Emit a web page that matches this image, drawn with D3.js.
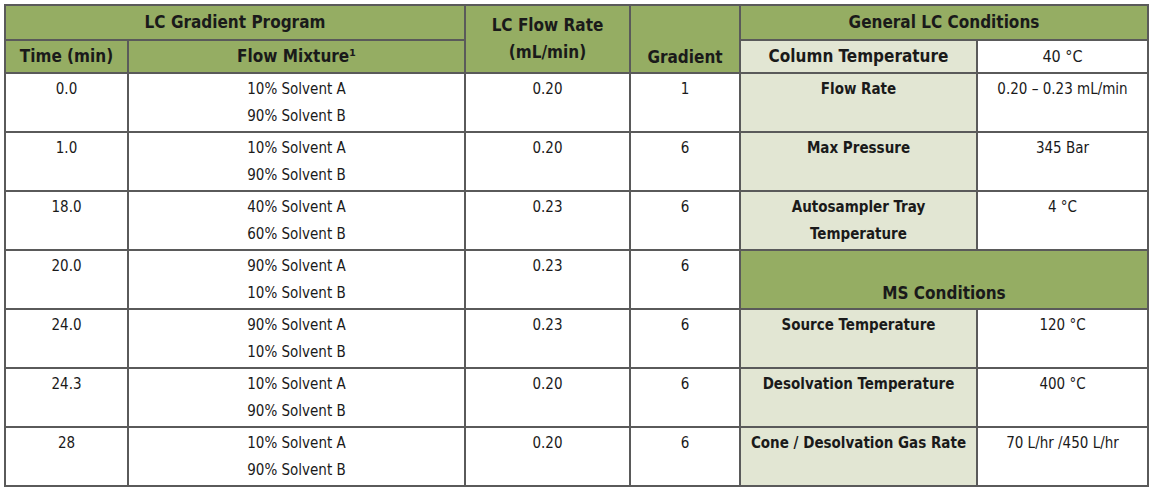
<!DOCTYPE html>
<html><head><meta charset="utf-8">
<script src="https://cdn.jsdelivr.net/npm/d3@7"></script>
<style>
body{margin:0;background:#fff;}
text{font-family:"Liberation Sans Narrow","DejaVu Sans Condensed","Roboto",sans-serif;fill:#1a1a1a;}
</style></head>
<body><div id="chart"></div>
<script>
// data
var times = ['0.0','1.0','18.0','20.0','24.0','24.3','28'];
var solventA = [10,10,40,90,90,10,10];
var solventB = [90,90,60,10,10,90,90];
var flowRates = ['0.20','0.20','0.23','0.23','0.23','0.20','0.20'];
var gradients = ['1','6','6','6','6','6','6'];
var lcLabels = ['Flow Rate','Max Pressure','Autosampler Tray\nTemperature'];
var lcValues = ['0.20 – 0.23 mL/min','345 Bar','4 °C'];
var msLabels = ['Source Temperature','Desolvation Temperature','Cone / Desolvation Gas Rate'];
var msValues = ['120 °C','400 °C','70 L/hr /450 L/hr'];

var width = 1154, height = 491;
var green = '#95ad63', pale = '#e2e6d3', line = '#5a5a5a';

var svg = d3.select('#chart').append('svg')
	.attr('width', width).attr('height', height);

// column edges (layout)
var colX = [5, 128, 465, 630, 740, 977, 1148];
var headTop = 5, head2 = 40;
var y = d3.scaleLinear().domain([0, times.length]).range([73, 486]);

var cells = [];
function cell(c0, c1, y0, y1, fill, lines, bold, size, dy) {
	cells.push({x0: colX[c0], x1: colX[c1], y0: y0, y1: y1, fill: fill,
		lines: lines, bold: bold, size: size, dy: dy});
}

// headers
cell(0, 2, headTop, head2, green, ['LC Gradient Program'], true, 17, 'mid');
cell(0, 1, head2, y(0), green, ['Time (min)'], true, 17, 'mid');
cell(1, 2, head2, y(0), green, ['Flow Mixture¹'], true, 17, 'mid');
cell(2, 3, headTop, y(0), green, ['LC Flow Rate', '(mL/min)'], true, 17, 'mid');
cell(3, 4, headTop, y(0), green, ['Gradient'], true, 17, 'low');
cell(4, 6, headTop, head2, green, ['General LC Conditions'], true, 17, 'mid');
cell(4, 5, head2, y(0), pale, ['Column Temperature'], true, 17, 'mid');
cell(5, 6, head2, y(0), '#fff', ['40 °C'], false, 16, 'mid');

// gradient program rows
times.forEach(function(t, i) {
	cell(0, 1, y(i), y(i + 1), '#fff', [t], false, 15, 'top');
	cell(1, 2, y(i), y(i + 1), '#fff',
		[solventA[i] + '% Solvent A', solventB[i] + '% Solvent B'], false, 15, 'top');
	cell(2, 3, y(i), y(i + 1), '#fff', [flowRates[i]], false, 15, 'top');
	cell(3, 4, y(i), y(i + 1), '#fff', [gradients[i]], false, 15, 'top');
});

// general LC conditions
lcLabels.forEach(function(l, i) {
	cell(4, 5, y(i), y(i + 1), pale, l.split('\n'), true, 15, 'top');
	cell(5, 6, y(i), y(i + 1), '#fff', [lcValues[i]], false, 15, 'top');
});
cell(4, 6, y(3), y(4), green, ['MS Conditions'], true, 17, 'low');
msLabels.forEach(function(l, i) {
	cell(4, 5, y(i + 4), y(i + 5), pale, [l], true, 15, 'top');
	cell(5, 6, y(i + 4), y(i + 5), '#fff', [msValues[i]], false, 15, 'top');
});

var g = svg.selectAll('g.cell').data(cells).enter().append('g').attr('class', 'cell');
g.append('rect')
	.attr('x', function(d) { return d.x0; })
	.attr('y', function(d) { return d.y0; })
	.attr('width', function(d) { return d.x1 - d.x0; })
	.attr('height', function(d) { return d.y1 - d.y0; })
	.attr('fill', function(d) { return d.fill; })
	.attr('stroke', line).attr('stroke-width', 2);

g.each(function(d) {
	var n = d.lines.length, lh = 27;
	var start;
	if (d.dy === 'top') start = d.y0 + 21;
	else if (d.dy === 'low') start = d.y1 - 10;
	else start = (d.y0 + d.y1) / 2 - (n - 1) * lh / 2 + d.size * 0.35;
	d3.select(this).selectAll('text').data(d.lines).enter().append('text')
		.attr('x', (d.x0 + d.x1) / 2)
		.attr('y', function(t, k) { return start + k * lh; })
		.attr('text-anchor', 'middle')
		.attr('font-size', d.size)
		.attr('font-weight', d.bold ? 'bold' : 'normal')
		.text(function(t) { return t; });
});
</script></body></html>
